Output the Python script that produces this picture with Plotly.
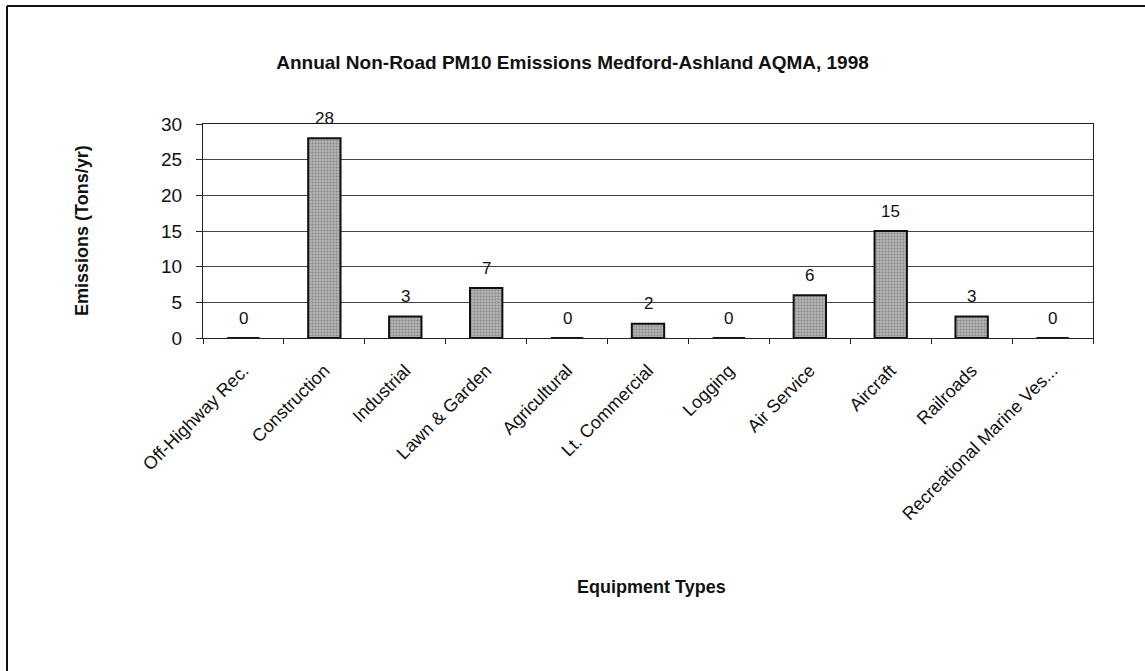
import plotly.graph_objects as go

# Annual non-road PM10 emissions by equipment type (tons per year)
categories = [
    "Off-Highway Rec.", "Construction", "Industrial", "Lawn & Garden",
    "Agricultural", "Lt. Commercial", "Logging", "Air Service",
    "Aircraft", "Railroads", "Recreational Marine Ves...",
]
emissions = [0, 28, 3, 7, 0, 2, 0, 6, 15, 3, 0]
y_ticks = [0, 5, 10, 15, 20, 25, 30]

W, H = 1145, 671
ML, MR, MT, MB = 203, 52, 124, 333
PW, PH = W - ML - MR, H - MT - MB

def px_x(px):
    return (px - ML) / PW

def px_y(py):
    return (H - MB - py) / PH

FONT = "Liberation Sans, Arial, sans-serif"

fig = go.Figure()
fig.add_trace(go.Bar(
    x=categories,
    y=emissions,
    width=0.4,
    marker=dict(
        color="#a8a8a8",
        line=dict(color="#111111", width=2),
        pattern=dict(shape=".", fgcolor="#5e5e5e", bgcolor="#b4b4b4",
                     size=3, solidity=0.4),
    ),
    hoverinfo="x+y",
))

# value labels above each bar
for cat, val in zip(categories, emissions):
    fig.add_annotation(
        x=cat, y=val, text=str(val), showarrow=False,
        yanchor="middle", yshift=20,
        font=dict(family=FONT, size=17, color="#111111"),
    )

# axis titles
fig.add_annotation(
    x=px_x(82), y=0.5, xref="paper", yref="paper",
    text="<b>Emissions (Tons/yr)</b>", textangle=-90, showarrow=False,
    xanchor="center", yanchor="middle",
    font=dict(family=FONT, size=18, color="#111111"),
)
fig.add_annotation(
    x=px_x(651), y=px_y(587), xref="paper", yref="paper",
    text="<b>Equipment Types</b>", showarrow=False,
    xanchor="center", yanchor="middle",
    font=dict(family=FONT, size=18, color="#111111"),
)

# outer frame (left and top edges)
fig.add_shape(type="line", xref="paper", yref="paper",
              x0=px_x(7), x1=px_x(7), y0=px_y(6), y1=px_y(H + 5),
              line=dict(color="#111111", width=2))
fig.add_shape(type="line", xref="paper", yref="paper",
              x0=px_x(7), x1=px_x(W + 5), y0=px_y(6), y1=px_y(6),
              line=dict(color="#111111", width=2))

fig.update_layout(
    width=W, height=H,
    margin=dict(l=ML, r=MR, t=MT, b=MB),
    paper_bgcolor="white", plot_bgcolor="white",
    showlegend=False,
    title=dict(
        text="<b>Annual Non-Road PM10 Emissions Medford-Ashland AQMA, 1998</b>",
        x=0.5, xref="container", xanchor="center",
        y=1 - 62 / H, yref="container", yanchor="middle",
        font=dict(family=FONT, size=19, color="#111111"),
    ),
    xaxis=dict(
        type="category",
        tickangle=-45,
        ticks="outside", ticklen=5, tickcolor="#222222",
        tickson="boundaries",
        showline=True, linecolor="#222222", linewidth=1, mirror=True,
        showgrid=False,
        ticklabelstandoff=14,
        tickfont=dict(family=FONT, size=18, color="#111111"),
    ),
    yaxis=dict(
        range=[0, 30],
        tickvals=y_ticks,
        ticks="outside", ticklen=6, tickcolor="#222222",
        showline=True, linecolor="#222222", linewidth=1, mirror=True,
        showgrid=True, gridcolor="#444444", gridwidth=1,
        zeroline=False,
        ticklabelstandoff=10,
        tickfont=dict(family=FONT, size=19, color="#111111"),
    ),
)

fig.write_html("out.html")
